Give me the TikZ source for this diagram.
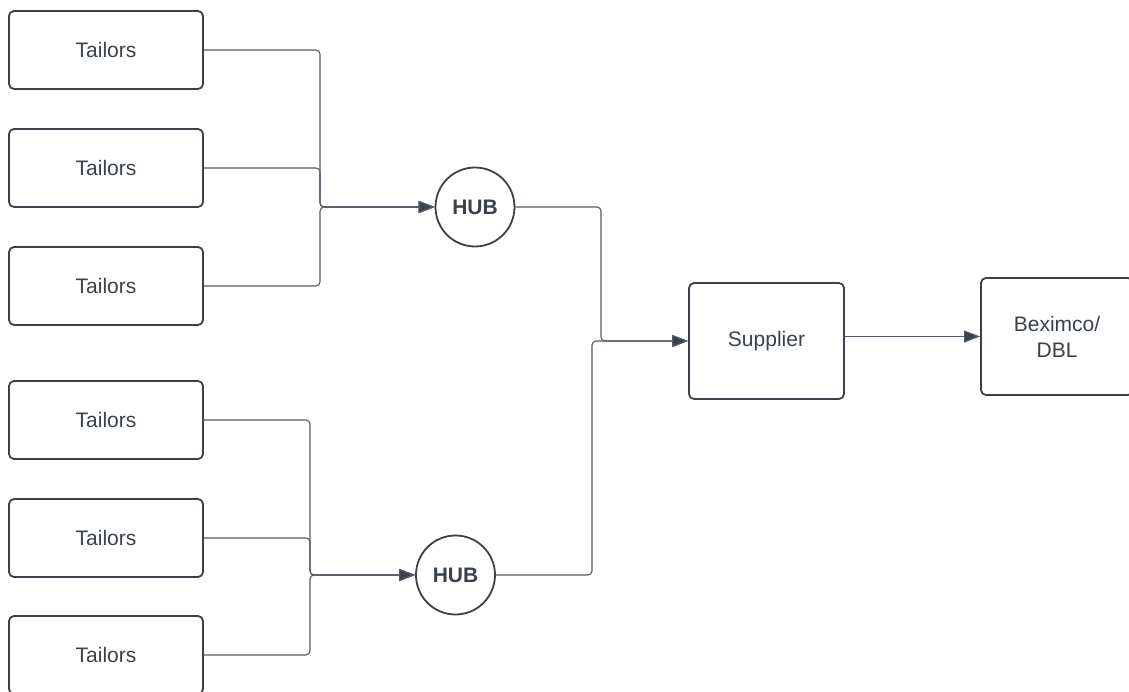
\documentclass[tikz,border=0pt]{standalone}
\usepackage{fontspec}
\setmainfont{Liberation Sans}
\usetikzlibrary{arrows.meta}
\definecolor{ink}{HTML}{3A414A}
\definecolor{wire}{HTML}{555C66}
\tikzset{
  tailorbox/.style={draw=ink, line width=1.8pt, rounded corners=5pt,
    minimum width=194pt, minimum height=78pt, inner sep=0pt,
    text=ink, font=\fontsize{21pt}{25pt}\selectfont},
  hubnode/.style={draw=ink, line width=1.8pt, circle, minimum size=79pt,
    inner sep=0pt, text=ink, font=\fontsize{21pt}{25pt}\selectfont\bfseries},
  bigbox/.style={draw=ink, line width=1.8pt, rounded corners=5pt,
    inner sep=0pt, text=ink, align=center,
    font=\fontsize{21pt}{26pt}\selectfont},
  link/.style={draw=wire, line width=1.1pt, rounded corners=4pt,
    -{Triangle[length=16pt,width=12pt,fill=ink]}},
}
\begin{document}
\begin{tikzpicture}[x=1pt,y=-1pt]
\useasboundingbox (0,0) rectangle (1129,692);
\clip (0,0) rectangle (1129,692);

% tailors, upper group
\node[tailorbox] (t1) at (106,50)  {Tailors};
\node[tailorbox] (t2) at (106,168) {Tailors};
\node[tailorbox] (t3) at (106,286) {Tailors};
% tailors, lower group
\node[tailorbox] (t4) at (106,420) {Tailors};
\node[tailorbox] (t5) at (106,538) {Tailors};
\node[tailorbox] (t6) at (106,655) {Tailors};

% hubs
\node[hubnode] (h1) at (475,207) {HUB};
\node[hubnode] (h2) at (455.5,575) {HUB};

% supplier and buyer
\node[bigbox, minimum width=155pt, minimum height=116pt] (sup) at (766.5,341) {Supplier};
\node[bigbox, minimum width=152pt, minimum height=117pt] (bex) at (1057,336.5) {Beximco/\\DBL};

% junction points
\coordinate (j1) at (320,207);
\coordinate (j2) at (310,575);
\coordinate (j3) at (601,341);
\coordinate (j4) at (592,341);

% tailors to hubs
\foreach \t in {t1,t2,t3}
  \draw[link] (\t.east) -| (j1) -- (h1.west);
\foreach \t in {t4,t5,t6}
  \draw[link] (\t.east) -| (j2) -- (h2.west);

% hubs to supplier
\draw[link] (h1.east) -| (j3) -- (sup.west);
\draw[link] (h2.east) -| (j4) -- (sup.west);

% supplier to buyer
\draw[link] (sup.east |- bex.west) -- (bex.west);
\end{tikzpicture}
\end{document}
